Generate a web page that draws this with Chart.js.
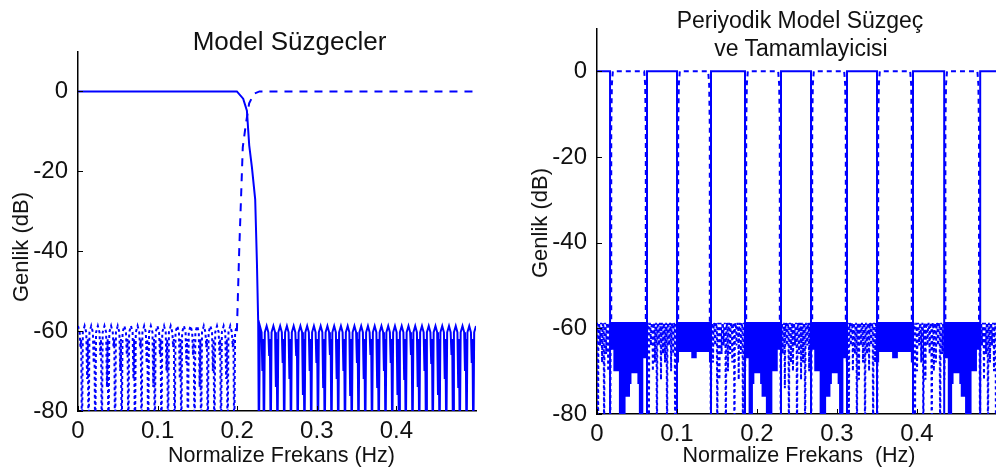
<!DOCTYPE html>
<html>
<head>
<meta charset="utf-8">
<script src="https://cdn.jsdelivr.net/npm/chart.js@4.4.0/dist/chart.umd.min.js"></script>
<style>
  html, body { margin: 0; padding: 0; background: #fff; overflow: hidden; }
  #wrap { position: relative; width: 996px; height: 468px; overflow: hidden; }
  canvas { position: absolute; top: 0; }
  .lbl { position: absolute; font-family: "Liberation Sans", Arial, sans-serif; color: #111; line-height: 1; white-space: pre; }
  .rot { transform: translate(-50%, -50%) rotate(-90deg); }
</style>
</head>
<body>
<div id="wrap">
  <canvas id="left" width="498" height="468" style="left:0;width:498px;height:468px"></canvas>
  <canvas id="right" width="504" height="468" style="left:498px;width:504px;height:468px"></canvas>

  <div class="lbl" style="left:289.5px;top:28px;font-size:26px;transform:translateX(-50%)">Model Süzgecler</div>
  <div class="lbl" style="left:281.5px;top:445px;font-size:21.5px;transform:translateX(-50%)">Normalize Frekans (Hz)</div>
  <div class="lbl rot" style="left:21px;top:247px;font-size:22px">Genlik (dB)</div>

  <div class="lbl" style="left:800px;top:9px;font-size:23px;transform:translateX(-50%)">Periyodik Model Süzgeç</div>
  <div class="lbl" style="left:801px;top:37px;font-size:23px;transform:translateX(-50%)">ve Tamamlayicisi</div>
  <div class="lbl" style="left:799px;top:445px;font-size:21.5px;transform:translateX(-50%)">Normalize Frekans  (Hz)</div>
  <div class="lbl rot" style="left:540px;top:223px;font-size:22px">Genlik (dB)</div>
</div>
<script>
const tickHz = [0, 0.1, 0.2, 0.3, 0.4];
const tickDb = [-80, -60, -40, -20, 0];
const blue = '#0000ff';

// ripple lobes: peak, shoulder, null(s), shoulder
const ripplePeakDb = -58.7;
const rippleShoulderDb = -60.3;
const rippleSaddleDb = -62;

// ---- left panel: model low-pass filter and its complement ----
const lpEdgeHz = [0, 0.1996, 0.2075, 0.2122, 0.2151, 0.2185, 0.2226, 0.2248, 0.2264, 0.2272];
const lpEdgeDb = [0, 0, -1.8, -4.8, -13.5, -19, -27, -43, -58, -90];
const lpStopFromHz = 0.2285;
const lpStopToHz = 0.5;
// two nulls per lobe: shallow one, then deep one
const lpStopNullDb = [
  -70, -90, -66, -90, -74, -90, -68, -90, -72, -90, -66, -90, -76, -90, -70, -90,
  -68, -90, -74, -90, -66, -90, -72, -90, -70, -90, -76, -90, -68, -90, -72, -90,
  -66, -90, -74, -90, -70, -90, -68, -90, -76, -90, -72, -90, -66, -90, -74, -90,
  -70, -90, -68, -90, -76, -90, -72, -90, -66, -90, -74, -90, -70, -90, -68, -90
];

const hpStopFromHz = 0;
const hpStopToHz = 0.1996;
const hpStopNullDb = [
  -64, -90, -72, -90, -68, -90, -66, -90, -74, -90, -64, -90,
  -70, -90, -66, -90, -72, -90, -64, -90, -68, -90, -74, -90,
  -66, -90, -70, -90, -64, -90, -72, -90, -68, -90, -66, -90,
  -74, -90, -64, -90, -70, -90, -66, -90, -72, -90, -64, -90
];
const hpEdgeHz = [0.1996, 0.2025, 0.205, 0.207, 0.211, 0.215, 0.221, 0.228, 0.5];
const hpEdgeDb = [-60, -40, -25.6, -14, -8, -3, -0.6, 0, 0];

// ---- right panel: periodic model filter and its complement ----
const pmPassFromHz = [0, 0.0625, 0.1425, 0.2300, 0.3125, 0.3950, 0.4790];
const pmPassToHz   = [0.0163, 0.1000, 0.1850, 0.2675, 0.3500, 0.4340, 0.5];
const pmStopKind   = ['deepA', 'shallow', 'deepB', 'deepA', 'shallow', 'deepB'];
const pmStopTopDb  = -58.5;
// lower edge of the dense stop-band ripple, position as a fraction of the band
const pmFloorPos = {
  deepA:   [0, 0.09, 0.09, 0.24, 0.24, 0.42, 0.42, 0.54, 0.54, 0.58, 0.58, 0.74, 0.74, 0.78, 0.78, 0.9, 0.9, 1],
  deepB:   [0, 0.1, 0.1, 0.22, 0.22, 0.26, 0.26, 0.42, 0.42, 0.46, 0.46, 0.58, 0.58, 0.76, 0.76, 0.91, 0.91, 1],
  shallow: [0, 0.06, 0.06, 0.42, 0.42, 0.58, 0.58, 0.94, 0.94, 1]
};
const pmFloorDb = {
  deepA:   [-65, -65, -70, -70, -90, -90, -76, -76, -73, -73, -70.5, -70.5, -73, -73, -90, -90, -67, -67],
  deepB:   [-67, -67, -90, -90, -73, -73, -70.5, -70.5, -73, -73, -76, -76, -90, -90, -70, -70, -65, -65],
  shallow: [-68, -68, -65.5, -65.5, -67, -67, -65.5, -65.5, -68, -68]
};
// complement: band edges sit just outside the periodic filter's pass bands
const pcEdgeGapHz = 0.0015;
const pcEdgeDb = [-60, -13, -3, 0];
const pcEdgeHz = [0, 0, 0.0008, 0.002];
// complement ripple nulls inside each pass band of the periodic filter
const pcNullDb = [
  [-90, -64, -68, -90, -66, -70, -90],
  [-66, -90, -64, -70, -68, -90, -64, -72, -66, -68, -90, -64, -70, -66, -90, -68],
  [-90, -68, -64, -90, -72, -66, -64, -90, -70, -66, -68, -90, -64, -72, -66, -90, -70],
  [-90, -66, -74, -64, -90, -68, -70, -64, -90, -66, -72, -68, -90, -64, -70, -90],
  [-68, -90, -64, -70, -66, -90, -72, -64, -68, -90, -66, -70, -64, -90, -68, -90],
  [-66, -90, -70, -64, -68, -90, -72, -64, -66, -90, -70, -68, -64, -90, -66, -72],
  [-90, -64, -72, -66, -90, -68, -64, -70, -90]
];

// one null per lobe
function rippleBand(fromHz, toHz, nulls) {
  const w = (toHz - fromHz) / nulls.length;
  const pts = [];
  nulls.forEach((n, i) => {
    const s = fromHz + i * w;
    pts.push({x: s, y: ripplePeakDb}, {x: s + 0.3 * w, y: rippleShoulderDb},
             {x: s + 0.5 * w, y: n}, {x: s + 0.7 * w, y: rippleShoulderDb});
  });
  pts.push({x: toHz, y: ripplePeakDb});
  return pts;
}

// two close nulls per lobe, so each lobe reads as a thick bar
function rippleBandPaired(fromHz, toHz, nulls) {
  const lobes = nulls.length / 2;
  const w = (toHz - fromHz) / lobes;
  const pts = [];
  for (let i = 0; i < lobes; i++) {
    const s = fromHz + i * w;
    pts.push({x: s, y: ripplePeakDb}, {x: s + 0.25 * w, y: rippleShoulderDb},
             {x: s + 0.37 * w, y: nulls[2 * i]}, {x: s + 0.48 * w, y: rippleSaddleDb},
             {x: s + 0.6 * w, y: nulls[2 * i + 1]}, {x: s + 0.73 * w, y: rippleShoulderDb});
  }
  pts.push({x: toHz, y: ripplePeakDb});
  return pts;
}

function pairs(xs, ys) {
  return xs.map((x, i) => ({x: x, y: ys[i]}));
}

// inward tick marks, drawn on the axes like the plotting program does
const inwardTicks = {
  id: 'inwardTicks',
  afterDraw(chart) {
    const {ctx, chartArea, scales} = chart;
    ctx.save();
    ctx.strokeStyle = '#000';
    ctx.lineWidth = 1;
    ctx.beginPath();
    scales.x.ticks.forEach(t => {
      const px = Math.round(scales.x.getPixelForValue(t.value)) + 0.5;
      ctx.moveTo(px, chartArea.bottom);
      ctx.lineTo(px, chartArea.bottom - 5);
    });
    scales.y.ticks.forEach(t => {
      const py = Math.round(scales.y.getPixelForValue(t.value)) + 0.5;
      ctx.moveTo(chartArea.left, py);
      ctx.lineTo(chartArea.left + 5, py);
    });
    ctx.stroke();
    ctx.restore();
  }
};

function axes(yWidth, xHeight) {
  const font = {family: '"Liberation Sans", Arial, sans-serif', size: 24};
  return {
    x: {
      type: 'linear', min: 0, max: 0.5,
      afterBuildTicks: s => { s.ticks = tickHz.map(v => ({value: v})); },
      afterFit: s => { s.height = xHeight; },
      ticks: {font: font, color: '#111', padding: 6, maxRotation: 0, callback: v => String(v)},
      grid: {display: false, drawTicks: false},
      border: {display: true, color: '#000', width: 1.5}
    },
    y: {
      type: 'linear', min: -80, max: 10,
      afterBuildTicks: s => { s.ticks = tickDb.map(v => ({value: v})); },
      afterFit: s => { s.width = yWidth; },
      ticks: {font: font, color: '#111', padding: 10, callback: v => String(v)},
      grid: {display: false, drawTicks: false},
      border: {display: true, color: '#000', width: 1.5}
    }
  };
}

function lineSet(data, dash, width) {
  return {
    data: data, borderColor: blue, borderWidth: width, borderDash: dash,
    pointRadius: 0, tension: 0, fill: false, spanGaps: false
  };
}

const baseOptions = (yWidth, xHeight, pad) => ({
  responsive: false,
  animation: false,
  devicePixelRatio: 1,
  layout: {padding: pad},
  plugins: {legend: {display: false}, tooltip: {enabled: false}, title: {display: false}},
  scales: axes(yWidth, xHeight)
});

// left panel
const lpData = pairs(lpEdgeHz, lpEdgeDb).concat(rippleBandPaired(lpStopFromHz, lpStopToHz, lpStopNullDb));
const hpRipple = rippleBandPaired(hpStopFromHz, hpStopToHz, hpStopNullDb);
const hpTop = pairs(hpEdgeHz, hpEdgeDb);

new Chart(document.getElementById('left'), {
  type: 'line',
  data: {datasets: [lineSet(lpData, [], 2), lineSet(hpRipple, [3, 3], 2), lineSet(hpTop, [8, 7], 2)]},
  options: baseOptions(78, 57, {top: 51.5, right: 22, left: 0, bottom: 0}),
  plugins: [inwardTicks]
});

// right panel
const pmData = [];
const pcRipple = [];
const pcTop = [];
pmPassFromHz.forEach((a, i) => {
  const b = pmPassToHz[i];
  if (a > 0) pmData.push({x: a, y: -90});
  pmData.push({x: a, y: 0}, {x: b, y: 0});
  if (b < 0.5) pmData.push({x: b, y: -90});

  const ra = a > 0 ? a - pcEdgeGapHz : a;
  const rb = b < 0.5 ? b + pcEdgeGapHz : b;
  pcRipple.push(...rippleBand(ra, rb, pcNullDb[i]), {x: rb, y: null});
});
pmStopKind.forEach((kind, k) => {
  // complement sits at 0 dB across each stop band of the periodic filter
  const a = pmPassToHz[k] + pcEdgeGapHz;
  const b = pmPassFromHz[k + 1] - pcEdgeGapHz;
  pcEdgeHz.forEach((d, j) => pcTop.push({x: a + d, y: pcEdgeDb[j]}));
  for (let j = pcEdgeHz.length - 1; j >= 0; j--) pcTop.push({x: b - pcEdgeHz[j], y: pcEdgeDb[j]});
  pcTop.push({x: b, y: null});
});

const fillSets = [];
pmStopKind.forEach((kind, k) => {
  const a = pmPassToHz[k];
  const b = pmPassFromHz[k + 1];
  fillSets.push({
    data: [{x: a, y: pmStopTopDb}, {x: b, y: pmStopTopDb}],
    borderWidth: 0, pointRadius: 0, fill: false
  });
  fillSets.push({
    data: pmFloorPos[kind].map((p, j) => ({x: a + p * (b - a), y: pmFloorDb[kind][j]})),
    borderWidth: 0, pointRadius: 0, backgroundColor: blue, fill: '-1'
  });
});

new Chart(document.getElementById('right'), {
  type: 'line',
  data: {datasets: fillSets.concat([lineSet(pmData, [], 2), lineSet(pcRipple, [3, 3], 2), lineSet(pcTop, [5, 4], 2)])},
  options: baseOptions(99, 54, {top: 28.5, right: 5, left: 0, bottom: 0}),
  plugins: [inwardTicks]
});
</script>
</body>
</html>
